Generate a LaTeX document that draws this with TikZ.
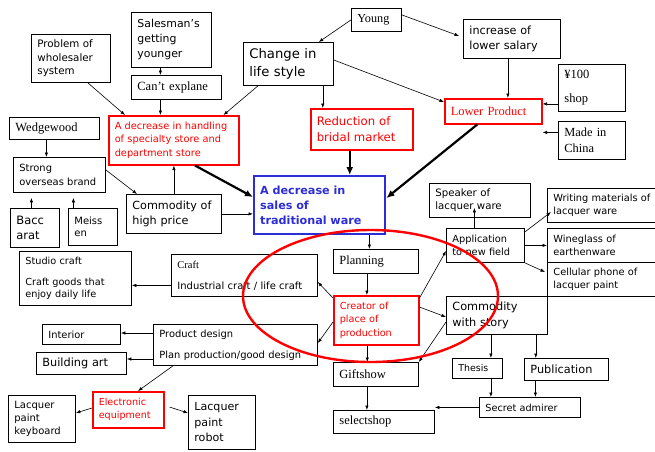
\documentclass[tikz,border=0pt]{standalone}
\usepackage{fontspec}
\setmainfont{DejaVu Sans}
\newfontfamily\mincho{Liberation Serif}
\usetikzlibrary{arrows.meta}

\definecolor{tradblue}{RGB}{45,45,215}
\definecolor{keyred}{RGB}{255,0,0}

\newcommand\fs[2]{\fontsize{#1}{#2}\selectfont}

\tikzset{
  box/.style={draw, line width=0.8pt, anchor=north west, align=left, inner xsep=6pt, inner ysep=1pt},
  hot/.style={box, draw=keyred, text=keyred, line width=1.5pt},
  main/.style={box, draw=tradblue, text=tradblue, line width=2.4pt, font=\bfseries\fs{11.2}{15.3}},
  wh/.style 2 args={minimum width=#1pt, minimum height=#2pt, text width=#1pt-12pt},
  link/.style={-{Latex[length=4.5pt,width=3.4pt]}, line width=0.6pt},
  heavy/.style={-{Latex[length=8pt,width=7pt]}, line width=2.2pt},
}

\begin{document}
\begin{tikzpicture}[x=1pt,y=-1pt]
\useasboundingbox (0,0) rectangle (655,451);

% causes
\node[box, wh={80}{55}, font=\fs{10.9}{15}] (salesman) at (131,12) {Salesman's\\getting\\younger};
\node[box, wh={79}{48}, font=\fs{10.3}{13.3}] (problem) at (31,34) {Problem of\\wholesaler\\system};
\node[box, wh={90}{24}, font=\mincho\fs{12.5}{15}] (explain) at (131,75) {Can’t explane};
\node[box, wh={90}{43}, font=\fs{13.2}{18}] (lifestyle) at (243,42) {Change in\\life style};
\node[hot, wh={130}{49}, font=\fs{9.8}{13.3}] (handling) at (108,115) {A decrease in handling\\of specialty store and\\department store};
\node[box, wh={90}{22}, font=\mincho\fs{12.5}{15}] (wedgewood) at (9,117) {Wedgewood};
\node[box, wh={92}{35}, font=\fs{9.9}{14}] (overseas) at (13,157) {Strong\\overseas brand};
\node[box, wh={95}{39}, font=\fs{11.2}{15.5}] (highprice) at (126,194) {Commodity of\\high price};
\node[box, wh={49}{39}, font=\fs{11.5}{15}] (baccarat) at (10,208) {Bacc\\arat};
\node[box, wh={49}{37}, font=\fs{10}{12.5}] (meissen) at (68,208) {Meiss\\en};
\node[hot, wh={102}{41}, font=\fs{11.7}{16}] (bridal) at (310,108) {Reduction of\\bridal market};
\node[box, wh={50}{23}, font=\mincho\fs{12.2}{15}] (young) at (351,8) {Young};
\node[box, wh={97}{39}, font=\fs{11.2}{15.5}] (salary) at (463,19) {increase of\\lower salary};
\node[hot, wh={97}{25}, font=\mincho\fs{12.5}{15}] (lowprod) at (444,98) {Lower Product};
\node[box, wh={67}{47}, font=\mincho\fs{12.5}{24}] (yenshop) at (558,64) {¥100\\shop};
\node[box, wh={67}{38}, font=\mincho\fs{12.4}{15.5}] (china) at (558,121) {Made in\\China};
\node[main, wh={131}{58}] (sales) at (253,175) {A decrease in\\sales of\\traditional ware};

\draw[link] (young.west) -- ([xshift=-15pt]lifestyle.north east);
\draw[link] ([yshift=5pt]young.east) -- ([xshift=-4pt,yshift=3pt]salary.west);
\draw[link] ([xshift=-11pt]salesman.south) -- ([xshift=-11pt]salesman.south |- explain.north);
\draw[link] ([xshift=-16pt]explain.south) -- ([xshift=-16pt]explain.south |- handling.north);
\draw[link] ([xshift=-23pt]problem.south east) -- ([xshift=17pt]handling.north west);
\draw[link] ([xshift=15pt]lifestyle.south west) -- ([xshift=-16pt]handling.north east);
\draw[link] ([xshift=-11pt]lifestyle.south east) -- ([xshift=-11pt]lifestyle.south east |- bridal.north);
\draw[link] ([yshift=-18pt]lifestyle.north east) -- ([yshift=-4pt]lowprod.north west);
\draw[link] ([xshift=-4pt]salary.south) -- ([xshift=-4pt]salary.south |- lowprod.north);
\draw[link] ([yshift=-16pt]yenshop.west) -- ([yshift=-16pt]yenshop.west -| lowprod.east);
\coordinate (chinatip) at ([yshift=8pt]china.west -| lowprod.east);
\draw[link] ([yshift=8pt]china.west) -- (chinatip);
\draw[heavy] ([xshift=-16pt]lowprod.south) -- ([yshift=-23pt]sales.north east);
\draw[heavy] ([xshift=-12pt]bridal.south) -- ([xshift=-12pt]bridal.south |- sales.north);
\draw[heavy] ([xshift=87pt]handling.south west) -- ([yshift=-22pt]sales.north west);
\draw[link] (highprice.east) -- (highprice.east -| sales.west);
\draw[link] (highprice.north) -- (highprice.north |- handling.south);
\draw[link] ([yshift=5pt]overseas.east) -- ([xshift=11pt]highprice.north west);
\draw[link] ([xshift=-8pt]wedgewood.south) -- ([xshift=-8pt]wedgewood.south |- overseas.north);
\draw[link, shorten >=5pt] ([xshift=-3.5pt]baccarat.north) -- ([xshift=-3.5pt]baccarat.north |- overseas.south);
\draw[link, shorten >=5pt] ([xshift=-19.5pt]meissen.north) -- ([xshift=-19.5pt]meissen.north |- overseas.south);

% measures
\node[box, wh={85}{24}, font=\mincho\fs{12.5}{15}] (planning) at (333,249) {Planning};
\node[hot, wh={85}{49}, font=\fs{9.7}{13.5}] (creator) at (333,295) {Creator of\\place of\\production};
\node[box, wh={85}{24}, font=\mincho\fs{12.5}{15}] (giftshow) at (333,362) {Giftshow};
\node[box, wh={101}{23}, font=\mincho\fs{12.5}{15}] (selectshop) at (333,410) {selectshop};
\node[box, wh={101}{34}, font=\fs{10.2}{13.5}] (speaker) at (429,183) {Speaker of\\lacquer ware};
\node[box, wh={78}{34}, font=\fs{9.8}{13.5}] (newfield) at (446,228) {Application\\to new field};
\node[box, wh={115}{34}, font=\fs{9.8}{13}] (writing) at (547,188) {Writing materials of\\lacquer ware};
\node[box, wh={115}{34}, font=\fs{9.8}{13}] (wineglass) at (547,228) {Wineglass of\\earthenware};
\node[box, wh={115}{34}, font=\fs{9.8}{13}] (cellular) at (547,262) {Cellular phone of\\lacquer paint};
\node[box, wh={101}{38}, font=\fs{11.3}{16.5}] (story) at (446,296) {Commodity\\with story};
\node[box, wh={50}{20}, font=\fs{9.4}{12}] (thesis) at (452,358) {Thesis};
\node[box, wh={84}{22}, font=\fs{11.3}{14}] (publication) at (524,358) {Publication};
\node[box, wh={101}{20}, font=\fs{9.7}{12}] (admirer) at (479,397) {Secret admirer};

\node[box, wh={112}{54}, font=\fs{9.7}{12.5}] (studio) at (19,251) {Studio craft\\[8.5pt]Craft goods that\\enjoy daily life};
\node[box, wh={146}{42}, font=\fs{10}{13}] (craft) at (171,254) {{\mincho\fs{10.5}{13}Craft}\\[8pt]Industrial craft / life craft};
\node[box, wh={78}{20}, font=\fs{9.9}{12}] (interior) at (42,324) {Interior};
\node[box, wh={90}{22}, font=\fs{11.3}{14}] (building) at (36,352) {Building art};
\node[box, wh={164}{41}, font=\fs{9.9}{13}] (design) at (153,324) {Product design\\[8pt]Plan production/good design};
\node[hot, wh={71}{36}, font=\fs{9.6}{13}] (electronic) at (92,391) {Electronic\\equipment};
\node[box, wh={67}{47}, font=\fs{10}{13.3}] (keyboard) at (8,395) {Lacquer\\paint\\keyboard};
\node[box, wh={67}{54}, font=\fs{11.1}{15.5}] (robot) at (188,395) {Lacquer\\paint\\robot};

\draw[link] ([xshift=-17pt]sales.south east) -- ([xshift=-17pt]sales.south east |- planning.north);
\draw[link] ([xshift=-9pt]planning.south) -- ([xshift=-9pt]planning.south |- creator.north);
\draw[link] ([xshift=-9pt]creator.south) -- ([xshift=-9pt]creator.south |- giftshow.north);
\draw[link] ([xshift=-9pt]giftshow.south) -- ([xshift=-9pt]giftshow.south |- selectshop.north);
\draw[link] ([yshift=-3pt]creator.north west) -- ([yshift=-28pt]craft.north east);
\draw[link] ([yshift=-27pt]creator.north west) -- ([yshift=-19pt]design.north east);
\draw[link] ([yshift=-3pt]creator.north east) -- ([yshift=-23pt]newfield.north west);
\draw[link] ([yshift=-12pt]creator.north east) -- ([yshift=-21pt]story.north west);
\draw[link] ([yshift=-26pt]story.north west) -- (giftshow.north east);
\draw[link] ([xshift=-11pt]newfield.north) -- ([xshift=-11pt,yshift=10pt]newfield.north |- speaker.south);
\draw[link] ([yshift=-4pt]newfield.north east) -- ([xshift=4pt,yshift=-24pt]writing.north west);
\draw[link] (newfield.east) -- (wineglass.west);
\draw[link] (newfield.south east) -- ([xshift=-2pt,yshift=-10pt]cellular.north west);
\draw[link] ([xshift=-6pt]story.south) -- ([xshift=-6pt]story.south |- thesis.north);
\draw[link] ([xshift=-12pt]story.south east) -- ([xshift=-12pt]story.south east |- publication.north);
\draw[link] ([xshift=13.5pt]thesis.south) -- ([xshift=13.5pt]thesis.south |- admirer.north);
\draw[link] ([xshift=-31pt]publication.south) -- ([xshift=-31pt]publication.south |- admirer.north);
\draw[link] (admirer.west) -- (admirer.west -| selectshop.east);

\draw[link] ([yshift=-10pt]craft.west) -- ([yshift=-10pt]craft.west -| studio.east);
\draw[link] ([yshift=-9pt]design.north west) -- ([yshift=-9pt]design.north west -| interior.east);
\draw[link] ([yshift=-35pt]design.north west) -- ([yshift=-35pt]design.north west -| building.east);
\draw[link] ([xshift=20pt]design.south west) -- ([xshift=46pt]electronic.north west);
\draw[link] ([yshift=-17pt]electronic.north west) -- ([yshift=-18pt]keyboard.north east);
\draw[link] ([xshift=5pt,yshift=-16pt]electronic.north east) -- ([yshift=-18pt]robot.north west);

% place of production
\draw[keyred, line width=2.4pt] (370.5,296) ellipse [x radius=127.5pt, y radius=66pt];

\end{tikzpicture}
\end{document}
